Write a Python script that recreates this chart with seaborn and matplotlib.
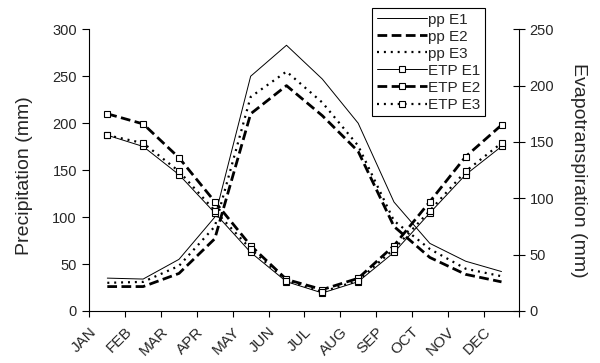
import matplotlib
matplotlib.use("Agg")
import matplotlib.pyplot as plt
from matplotlib.transforms import ScaledTranslation
import numpy as np
import pandas as pd
import seaborn as sns

# Monthly climate data
months = ["JAN", "FEB", "MAR", "APR", "MAY", "JUN",
          "JUL", "AUG", "SEP", "OCT", "NOV", "DEC"]

# Precipitation (mm), left axis
pp_e1 = [35, 34, 55, 100, 250, 283, 247, 200, 116, 72, 53, 42]
pp_e2 = [26, 26, 40, 77, 210, 240, 208, 170, 90, 57, 39, 31]
pp_e3 = [30, 31, 48, 90, 228, 255, 222, 176, 96, 66, 45, 37]

# Evapotranspiration (mm), right axis
etp_e1 = [156, 146, 121, 87, 52, 26, 16, 26, 52, 87, 121, 146]
etp_e2 = [175, 166, 136, 97, 58, 28, 19, 29, 58, 97, 137, 165]
etp_e3 = [156, 149, 124, 89, 55, 27, 17, 27, 55, 89, 124, 149]

sns.set_theme(style="white")
plt.rcParams["font.family"] = ["Liberation Sans", "DejaVu Sans"]

df = pd.DataFrame({
    "pos": np.arange(len(months)) + 0.5,
    "pp E1": pp_e1, "pp E2": pp_e2, "pp E3": pp_e3,
    "ETP E1": etp_e1, "ETP E2": etp_e2, "ETP E3": etp_e3,
})

fig = plt.figure(figsize=(6.0, 3.63), dpi=100)
ax = fig.add_axes([0.149, 0.1433, 0.7167, 0.776])
ax2 = ax.twinx()

solid = dict(linestyle="-", linewidth=0.7)
dashed = dict(linestyle=(0, (3.5, 1.6)), linewidth=2.0)
dotted = dict(linestyle=(0, (0.9, 2.2)), linewidth=1.6)
marker = dict(marker="s", markersize=4, markerfacecolor="white",
              markeredgecolor="black", markeredgewidth=0.8)

for col, st in [("pp E1", solid), ("pp E2", dashed), ("pp E3", dotted)]:
    sns.lineplot(data=df, x="pos", y=col, ax=ax, color="black",
                 label=col, legend=False, **st)
for col, st in [("ETP E1", solid), ("ETP E2", dashed), ("ETP E3", dotted)]:
    sns.lineplot(data=df, x="pos", y=col, ax=ax2, color="black",
                 label=col, legend=False, **st, **marker)

# Axes ranges and ticks
ax.set_xlim(0, 12)
ax.set_ylim(0, 300)
ax2.set_ylim(0, 250)
ax.set_yticks(np.arange(0, 301, 50))
ax2.set_yticks(np.arange(0, 251, 50))
ax.set_xticks(np.arange(0, 13))
ax.set_xticklabels([])
ax.set_xticks(np.arange(len(months)) + 0.5, minor=True)

ax.tick_params(axis="y", which="major", direction="out", length=5,
               width=0.8, color="black", labelsize=10.5, pad=4, left=True)
ax.tick_params(axis="x", which="major", direction="out", length=4.5,
               width=0.8, color="black", bottom=True)
ax.tick_params(axis="x", which="minor", length=0, pad=2)
ax2.tick_params(axis="y", direction="inout", length=8.5, width=0.8,
                color="black", labelsize=10.5, pad=3, right=True)

# Month names: slanted, hanging below and left of each month centre
ax.set_xticklabels(months, minor=True, rotation=45, ha="right",
                   va="center", rotation_mode="anchor", fontsize=11)
shift = ScaledTranslation(-9.5 / 72, -11.4 / 72, fig.dpi_scale_trans)
for lbl in ax.get_xticklabels(minor=True):
    lbl.set_transform(lbl.get_transform() + shift)

for a in (ax, ax2):
    for s in a.spines.values():
        s.set_color("black")
        s.set_linewidth(0.8)
    a.spines["top"].set_visible(False)
    a.grid(False)
ax.spines["right"].set_visible(False)
ax2.spines["left"].set_visible(False)
ax2.spines["bottom"].set_visible(False)

ax.set_xlabel("")
ax.set_ylabel("Precipitation (mm)", fontsize=14)
ax.yaxis.set_label_coords(-0.13, 0.48)
ax2.set_ylabel("Evapotranspiration (mm)", fontsize=14, rotation=270,
               labelpad=24)

handles = ax.get_lines() + ax2.get_lines()
labels = [h.get_label() for h in handles]
leg = fig.legend(handles, labels, loc="upper left",
                 bbox_to_anchor=(372 / 600, 1 - 8 / 363),
                 bbox_transform=fig.transFigure, fontsize=11,
                 frameon=True, fancybox=False, framealpha=1,
                 edgecolor="black", borderpad=0.3, labelspacing=0.2,
                 handlelength=3.3, handletextpad=0.05, numpoints=1,
                 borderaxespad=0)
leg.get_frame().set_linewidth(0.8)

fig.savefig("out.png", dpi=100)
